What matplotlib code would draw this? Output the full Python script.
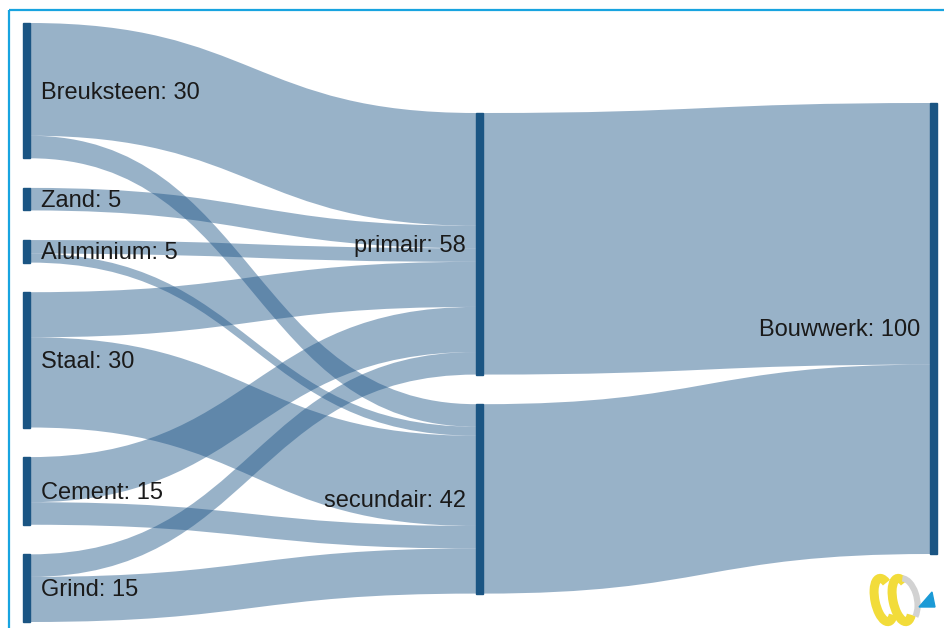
import matplotlib.pyplot as plt
from matplotlib.path import Path
from matplotlib.patches import PathPatch, Rectangle, Arc, Polygon

# material flows (tonnes) into the two stages and from there into the building
sources = ["Breuksteen", "Zand", "Aluminium", "Staal", "Cement", "Grind"]
stages = ["primair", "secundair"]
target = "Bouwwerk"
to_primair = [25, 5, 3, 10, 10, 5]
to_secundair = [5, 0, 2, 20, 5, 10]

node_color = "#1b5583"
link_color = (0.11, 0.33, 0.53, 0.45)
text_color = "#1a1a1a"

scale = 4.51      # pixels per unit
gap = 29.6        # pixels between nodes in a column
node_w = 7
col_x = [23, 476, 930]
col_top = [23, 113, 103]


def stack(values, top):
    spans = []
    y = top
    for v in values:
        spans.append((y, y + v * scale))
        y += v * scale + gap
    return spans


def band(ax, x0, y0, x1, y1, h):
    xm = (x0 + x1) / 2
    verts = [(x0, y0), (xm, y0), (xm, y1), (x1, y1),
             (x1, y1 + h), (xm, y1 + h), (xm, y0 + h), (x0, y0 + h), (x0, y0)]
    codes = [Path.MOVETO, Path.CURVE4, Path.CURVE4, Path.CURVE4,
             Path.LINETO, Path.CURVE4, Path.CURVE4, Path.CURVE4, Path.CLOSEPOLY]
    ax.add_patch(PathPatch(Path(verts, codes), facecolor=link_color,
                           edgecolor="none", zorder=1))


src_tot = [p + s for p, s in zip(to_primair, to_secundair)]
stage_tot = [sum(to_primair), sum(to_secundair)]
target_tot = sum(stage_tot)

src_spans = stack(src_tot, col_top[0])
stage_spans = stack(stage_tot, col_top[1])
target_span = stack([target_tot], col_top[2])[0]

fig = plt.figure(figsize=(9.45, 6.28), dpi=100)
ax = fig.add_axes([0, 0, 1, 1])
ax.set_xlim(0, 945)
ax.set_ylim(628, 0)
ax.axis("off")

# links: sources -> stages
stage_fill = [s[0] for s in stage_spans]
for i, (top, _) in enumerate(src_spans):
    y = top
    for k, flows in enumerate([to_primair, to_secundair]):
        v = flows[i]
        if v == 0:
            continue
        h = v * scale
        band(ax, col_x[0] + node_w, y, col_x[1], stage_fill[k], h)
        y += h
        stage_fill[k] += h

# links: stages -> building
y = target_span[0]
for k, (top, _) in enumerate(stage_spans):
    h = stage_tot[k] * scale
    band(ax, col_x[1] + node_w, top, col_x[2], y, h)
    y += h

# nodes and labels
fs = 17
dy = 2
for name, v, (a, b) in zip(sources, src_tot, src_spans):
    ax.add_patch(Rectangle((col_x[0], a), node_w, b - a, color=node_color, zorder=3))
    ax.text(col_x[0] + node_w + 11, (a + b) / 2 + dy, f"{name}: {v}", fontsize=fs,
            family="Liberation Sans", color=text_color, va="center", ha="left", zorder=4)
for name, v, (a, b) in zip(stages, stage_tot, stage_spans):
    ax.add_patch(Rectangle((col_x[1], a), node_w, b - a, color=node_color, zorder=3))
    ax.text(col_x[1] - 10, (a + b) / 2 + dy, f"{name}: {v}", fontsize=fs,
            family="Liberation Sans", color=text_color, va="center", ha="right", zorder=4)
a, b = target_span
ax.add_patch(Rectangle((col_x[2], a), node_w, b - a, color=node_color, zorder=3))
ax.text(col_x[2] - 10, (a + b) / 2 + dy, f"{target}: {target_tot}", fontsize=fs,
        family="Liberation Sans", color=text_color, va="center", ha="right", zorder=4)

# frame around the panel
ax.add_patch(Rectangle((9, 10), 960, 640, fill=False, edgecolor="#18a4e0",
                       linewidth=1.6, zorder=5))

# small logo in the bottom right corner
ax.add_patch(Arc((884, 600), 18, 44, angle=-12, theta1=70, theta2=290,
                 color="#f2dc3a", linewidth=6.5, zorder=4))
ax.add_patch(Arc((902, 600), 18, 44, angle=-12, theta1=70, theta2=290,
                 color="#f2dc3a", linewidth=6.5, zorder=4))
ax.add_patch(Arc((905, 600), 24, 44, angle=-12, theta1=-85, theta2=70,
                 color="#d2d2d2", linewidth=4.5, zorder=4))
ax.add_patch(Polygon([(919, 607), (935, 607), (932, 592)], closed=True,
                     color="#1b9ad6", zorder=5))

fig.savefig("out.png", dpi=100)
